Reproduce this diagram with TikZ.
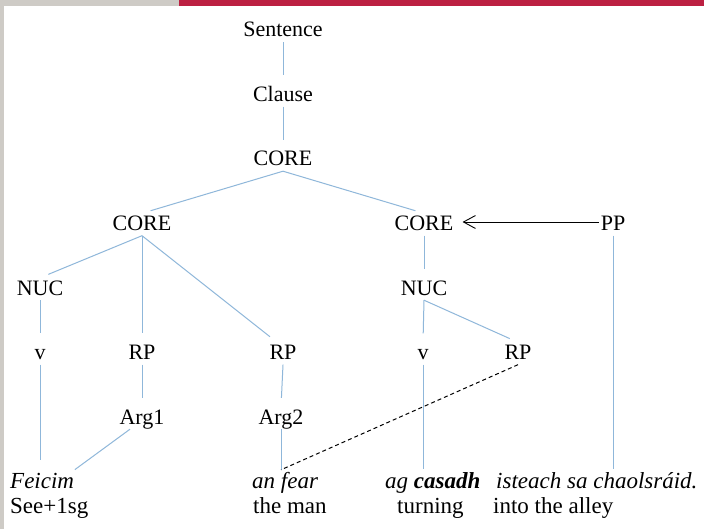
\documentclass[tikz,border=0pt]{standalone}
\usepackage{fontspec}
\setmainfont{Liberation Serif}
\usepackage{tikz}
\usetikzlibrary{arrows.meta}

\definecolor{treeblue}{RGB}{143,183,218}
\definecolor{barred}{RGB}{188,32,66}
\definecolor{bargray}{RGB}{206,203,198}

\tikzset{
  lbl/.style={font=\fontsize{22}{26}\selectfont, text height=15pt, text depth=3pt, inner xsep=2pt, inner ysep=2pt, anchor=base},
  word/.style={lbl, font=\fontsize{23}{27}\selectfont, anchor=base west},
  branch/.style={draw=treeblue, line width=1pt, shorten >=9pt},
}

\begin{document}
\begin{tikzpicture}[x=1pt, y=-1pt]
        % Frame
        \useasboundingbox (0,0) rectangle (704,529);
        \fill[white] (0,0) rectangle (704,529);
        \fill[bargray] (0,0) rectangle (4,529);
        \fill[bargray] (0,0) rectangle (179,6.5);
        \fill[barred] (179,0) rectangle (704,6);

        % Nodes
        \node (sentence) [lbl] at (283,37) {Sentence};
        \node (clause) [lbl] at (283,101.5) {Clause};
        \node (core) [lbl] at (283,166) {CORE};
        \node (coreL) [lbl] at (142,230.5) {CORE};
        \node (coreR) [lbl] at (424,230.5) {CORE};
        \node (pp) [lbl] at (613,230.5) {PP};
        \node (nucL) [lbl] at (40,295) {NUC};
        \node (nucR) [lbl] at (424,295) {NUC};
        \node (vL) [lbl] at (40,359.5) {v};
        \node (rp1) [lbl] at (142,359.5) {RP};
        \node (rp2) [lbl] at (283,359.5) {RP};
        \node (vR) [lbl] at (423,359.5) {v};
        \node (rp3) [lbl] at (518,359.5) {RP};
        \node (arg1) [lbl] at (142,424) {Arg1};
        \node (arg2) [lbl] at (281,424) {Arg2};

        % Words
        \node (feicim) [word] at (8,488) {\itshape Feicim};
        \node (see) [word] at (8,513) {See+1sg};
        \node (anfear) [word] at (250,488) {\itshape an fear};
        \node (theman) [word] at (251,513) {the man};
        \node (agcasadh) [word] at (383,488) {\itshape ag \textbf{casadh}};
        \node (turning) [word] at (395,513) {turning};
        \node (isteach) [word] at (494,488) {\itshape isteach sa chaolsráid.};
        \node (alley) [word] at (491,513) {into the alley};
        \coordinate (fearTop) at ([yshift=1pt]arg2.south |- anfear.north);

        % Branches
        \draw[branch] (sentence.south) -- (clause.north);
        \draw[branch] (clause.south) -- (core.north);
        \draw[branch] (core.south) -- (coreL.north);
        \draw[branch] (core.south) -- (coreR.north);
        \draw[branch] (coreL.south) -- (nucL.north);
        \draw[branch] (coreL.south) -- (rp1.north);
        \draw[branch] (coreL.south) -- ([xshift=-6pt]rp2.north);
        \draw[branch] (coreR.south) -- (nucR.north);
        \draw[branch] (nucL.south) -- (vL.north);
        \draw[branch] (nucR.south) -- (vR.north);
        \draw[branch] (nucR.south) -- (rp3.north);
        \draw[branch] (rp1.south) -- (arg1.north);
        \draw[branch] (rp2.south) -- (arg2.north);
        \draw[branch, shorten >=11pt] (vL.south) -- (vL.south |- feicim.north);
        \draw[branch, shorten >=2pt] ([xshift=-12pt]arg1.south) -- ([xshift=-3pt]feicim.north east);
        \draw[branch, shorten >=0pt] (arg2.south) -- (fearTop);
        \draw[branch, shorten >=2pt] (vR.south) -- (vR.south |- agcasadh.north);
        \draw[branch, shorten >=2pt] (pp.south) -- (pp.south |- isteach.north);

        % Dashed link and arrow
        \draw[line width=1pt, dash pattern=on 4pt off 3pt] (rp3.south) -- (fearTop);
        \draw[-{Straight Barb[length=12pt, width=13pt]}, line width=0.9pt, shorten >=7pt] ([yshift=2.5pt]pp.west) -- ([yshift=2.5pt]coreR.east);
    \end{tikzpicture}
\end{document}
